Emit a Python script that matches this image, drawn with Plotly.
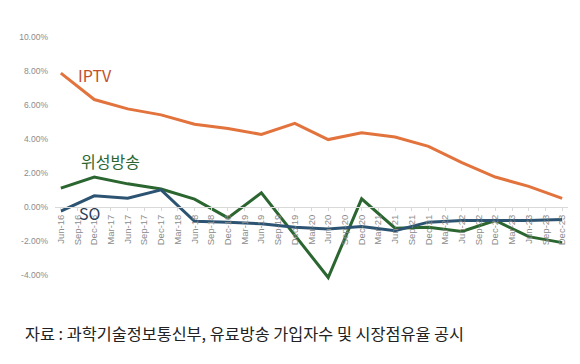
import plotly.graph_objects as go

quarters = ["Jun-16","Sep-16","Dec-16","Mar-17","Jun-17","Sep-17","Dec-17","Mar-18",
            "Jun-18","Sep-18","Dec-18","Mar-19","Jun-19","Sep-19","Dec-19","Mar-20",
            "Jun-20","Sep-20","Dec-20","Mar-21","Jun-21","Sep-21","Dec-21","Mar-22",
            "Jun-22","Sep-22","Dec-22","Mar-23","Jun-23","Sep-23","Dec-23"]

# semi-annual observations (Jun / Dec), in %
half_years = ["Jun-16","Dec-16","Jun-17","Dec-17","Jun-18","Dec-18","Jun-19","Dec-19",
              "Jun-20","Dec-20","Jun-21","Dec-21","Jun-22","Dec-22","Jun-23","Dec-23"]
iptv = [7.85, 6.3, 5.75, 5.4, 4.85, 4.6, 4.25, 4.9, 3.95, 4.35, 4.1, 3.55, 2.6, 1.75, 1.2, 0.5]
satellite = [1.1, 1.75, 1.35, 1.05, 0.45, -0.65, 0.82, -1.7, -4.15, 0.47, -1.25, -1.2, -1.45, -0.8, -1.75, -2.1]
so = [-0.25, 0.65, 0.5, 1.0, -0.85, -0.9, -1.0, -1.2, -1.3, -1.15, -1.4, -0.9, -0.8, -0.8, -0.8, -0.75]

y_min, y_max = -5, 10.5
y_ticks = [-4, -2, 0, 2, 4, 6, 8, 10]

fig = go.Figure()
series = [("IPTV", iptv, "#E2733D"), ("위성방송", satellite, "#2B6630"), ("SO", so, "#2C5472")]
for name, vals, col in series:
    fig.add_trace(go.Scatter(x=half_years, y=vals, mode="lines", name=name,
                             line=dict(color=col, width=3), showlegend=False))

fig.add_annotation(x=2.05, y=7.75, text="IPTV", showarrow=False, xanchor="center",
                   font=dict(family="Noto Sans CJK KR", size=16, color="#C2502E"))
fig.add_annotation(x=2.95, y=2.7, text="위성방송", showarrow=False, xanchor="center",
                   font=dict(family="Noto Sans CJK KR", size=16, color="#2B6630"))
fig.add_annotation(x=1.7, y=-0.35, text="SO", showarrow=False, xanchor="center",
                   font=dict(family="Noto Sans CJK KR", size=16, color="#2C3E55"))

fig.add_annotation(xref="paper", yref="paper", x=-0.062, y=-0.155, xanchor="left", yanchor="middle",
                   text="자료 : 과학기술정보통신부, 유료방송 가입자수 및 시장점유율 공시",
                   showarrow=False,
                   font=dict(family="Noto Sans CJK KR", size=16.3, color="#222222"))

zero_pos = (0 - y_min) / (y_max - y_min)
fig.update_layout(
    width=572, height=356,
    margin=dict(l=47, r=12, t=20, b=72),
    paper_bgcolor="white", plot_bgcolor="white",
    xaxis=dict(type="category", categoryorder="array", categoryarray=quarters,
               range=[-0.35, 30.35], anchor="free", position=zero_pos,
               showline=True, linecolor="#D9D9D9", linewidth=1,
               ticks="outside", ticklen=3, tickcolor="#D9D9D9",
               tickangle=-90, tickfont=dict(family="Liberation Sans", size=9.5, color="#8C8C8C"),
               tickvals=quarters, ticktext=quarters, showgrid=False, zeroline=False),
    yaxis=dict(range=[y_min, y_max], tickvals=y_ticks,
               ticktext=[f"{v:.2f}%" for v in y_ticks],
               ticklabelstandoff=6,
               tickfont=dict(family="Liberation Sans", size=8.5, color="#8C8C8C"),
               showgrid=False, zeroline=False, showline=False),
)

fig.write_html("out.html")
